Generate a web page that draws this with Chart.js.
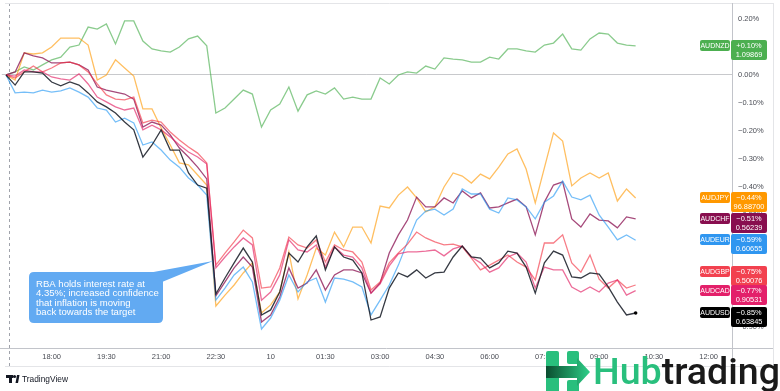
<!DOCTYPE html>
<html><head><meta charset="utf-8">
<script src="https://cdn.jsdelivr.net/npm/chart.js@4/dist/chart.umd.min.js"></script>
<style>html,body{margin:0;padding:0;background:#fff;}#wrap{width:780px;height:391px;position:relative;}canvas{display:block;}</style>
</head><body><div id="wrap"><canvas id="c" width="780" height="391"></canvas></div>
<script>
// ---- data (percent change, 15-minute bars from 16:45 to 10:00) ----
const xTickIndex = [5,11,17,23,29,35,41,47,53,59,65,71,77];
const xTickLabels = ['18:00','19:30','21:00','22:30','10','01:30','03:00','04:30','06:00','07:30','09:00','10:30','12:00'];
const yTickValues = [0.2,0.1,0,-0.1,-0.2,-0.3,-0.4,-0.5,-0.6,-0.7,-0.8,-0.9];

const audnzd = [0,0.011,0.029,0.018,0.036,0.054,0.064,0.100,0.107,0.171,0.164,0.182,0.111,0.193,0.193,0.121,0.093,0.086,0.082,0.100,0.129,0.139,0.104,-0.136,-0.118,-0.086,-0.054,-0.068,-0.186,-0.125,-0.104,-0.043,-0.129,-0.071,-0.057,-0.068,-0.046,-0.086,-0.079,-0.086,-0.086,-0.011,-0.032,0,0.011,0.007,0.032,0.021,0.061,0.057,0.054,0.046,0.046,0.064,0.057,0.093,0.093,0.086,0.082,0.107,0.114,0.146,0.093,0.089,0.129,0.150,0.146,0.114,0.107,0.104];
const audjpy = [0,-0.018,0.079,0.075,0.079,0.100,0.132,0.132,0.132,0.107,-0.018,0,0.054,0.025,-0.004,-0.121,-0.121,-0.189,-0.250,-0.314,-0.321,-0.357,-0.393,-0.825,-0.786,-0.750,-0.707,-0.671,-0.850,-0.821,-0.775,-0.632,-0.800,-0.714,-0.618,-0.643,-0.561,-0.614,-0.543,-0.543,-0.600,-0.468,-0.475,-0.429,-0.400,-0.439,-0.489,-0.471,-0.400,-0.350,-0.361,-0.386,-0.354,-0.371,-0.329,-0.282,-0.264,-0.336,-0.457,-0.332,-0.207,-0.236,-0.396,-0.368,-0.350,-0.368,-0.350,-0.450,-0.407,-0.439];
const audchf = [0,0.011,0.079,0.068,0.061,0.043,0.043,0.046,0.036,0.018,-0.043,-0.054,-0.061,-0.068,-0.086,-0.186,-0.168,-0.179,-0.214,-0.261,-0.293,-0.329,-0.371,-0.789,-0.739,-0.689,-0.650,-0.686,-0.882,-0.857,-0.793,-0.689,-0.761,-0.743,-0.696,-0.768,-0.714,-0.696,-0.696,-0.707,-0.779,-0.743,-0.636,-0.571,-0.518,-0.436,-0.471,-0.471,-0.439,-0.457,-0.414,-0.439,-0.421,-0.475,-0.471,-0.457,-0.443,-0.471,-0.571,-0.454,-0.393,-0.382,-0.514,-0.543,-0.496,-0.518,-0.521,-0.546,-0.507,-0.514];
const audeur = [0,-0.064,-0.061,-0.064,-0.054,-0.061,-0.057,-0.046,-0.061,-0.079,-0.118,-0.125,-0.168,-0.154,-0.171,-0.250,-0.239,-0.268,-0.304,-0.329,-0.368,-0.393,-0.429,-0.804,-0.761,-0.714,-0.686,-0.739,-0.907,-0.868,-0.804,-0.714,-0.775,-0.739,-0.725,-0.811,-0.725,-0.729,-0.739,-0.757,-0.857,-0.804,-0.750,-0.679,-0.596,-0.518,-0.486,-0.479,-0.500,-0.479,-0.407,-0.425,-0.425,-0.479,-0.493,-0.439,-0.446,-0.471,-0.514,-0.454,-0.432,-0.379,-0.436,-0.446,-0.429,-0.500,-0.543,-0.589,-0.571,-0.590];
const audgbp = [0,-0.011,0.011,0.032,0.011,0.025,0.043,0.046,0.036,0.011,-0.032,-0.071,-0.086,-0.089,-0.079,-0.171,-0.161,-0.168,-0.204,-0.232,-0.257,-0.279,-0.314,-0.679,-0.636,-0.596,-0.554,-0.582,-0.761,-0.757,-0.689,-0.579,-0.607,-0.618,-0.589,-0.668,-0.607,-0.625,-0.632,-0.668,-0.768,-0.739,-0.671,-0.636,-0.604,-0.561,-0.582,-0.596,-0.607,-0.604,-0.614,-0.654,-0.696,-0.679,-0.661,-0.643,-0.668,-0.686,-0.732,-0.600,-0.600,-0.571,-0.671,-0.704,-0.643,-0.729,-0.761,-0.732,-0.761,-0.750];
const audcad = [0,-0.004,0.018,0.011,0.011,-0.007,-0.014,-0.018,0.004,-0.032,-0.079,-0.096,-0.114,-0.125,-0.118,-0.196,-0.179,-0.196,-0.221,-0.250,-0.275,-0.293,-0.318,-0.689,-0.650,-0.614,-0.582,-0.607,-0.804,-0.775,-0.714,-0.589,-0.625,-0.632,-0.607,-0.686,-0.614,-0.643,-0.650,-0.689,-0.779,-0.746,-0.682,-0.639,-0.632,-0.632,-0.629,-0.625,-0.646,-0.621,-0.611,-0.650,-0.671,-0.704,-0.689,-0.650,-0.636,-0.668,-0.761,-0.686,-0.696,-0.696,-0.757,-0.775,-0.757,-0.775,-0.743,-0.732,-0.786,-0.770];
const audusd = [0,-0.036,0.011,0.011,0.007,-0.025,-0.039,-0.025,-0.036,-0.064,-0.096,-0.114,-0.136,-0.168,-0.196,-0.293,-0.250,-0.196,-0.268,-0.268,-0.350,-0.393,-0.404,-0.782,-0.725,-0.671,-0.618,-0.668,-0.857,-0.839,-0.775,-0.636,-0.668,-0.614,-0.575,-0.696,-0.614,-0.650,-0.661,-0.707,-0.875,-0.864,-0.761,-0.707,-0.721,-0.696,-0.725,-0.707,-0.704,-0.650,-0.611,-0.650,-0.654,-0.689,-0.671,-0.629,-0.636,-0.686,-0.779,-0.671,-0.629,-0.643,-0.721,-0.725,-0.707,-0.711,-0.757,-0.811,-0.857,-0.850];

const seriesNames = ['AUDNZD','AUDJPY','AUDCHF','AUDEUR','AUDGBP','AUDCAD','AUDUSD'];
const seriesData = [audnzd,audjpy,audchf,audeur,audgbp,audcad,audusd];
const pctLabels = ['+0.10%','\u22120.44%','\u22120.51%','\u22120.59%','\u22120.75%','\u22120.77%','\u22120.85%'];
const priceLabels = ['1.09869','96.88700','0.56239','0.60655','0.50076','0.90531','0.63845'];
const annotationLines = ['RBA holds interest rate at','4.35%; increased confidence','that inflation is moving','back towards the target'];
const annotationAt = {index: 22.7, value: -0.664};

// ---- styles ----
const badgeColors = ['#4caf50','#ff9800','#880e4f','#2f96f0','#f2414f','#e3206a','#000000'];
const lineColors = ['rgba(76,175,80,0.65)','rgba(255,152,0,0.62)','rgba(136,14,79,0.75)','rgba(33,150,243,0.62)','rgba(242,54,69,0.65)','rgba(226,30,99,0.65)','rgba(19,23,34,0.85)'];
const ff = '"Liberation Sans", Arial, sans-serif';

const fmtPct = v => { const a = Math.abs(v).toFixed(2); return (v < -1e-9 ? '\u2212' : '') + a + '%'; };

const datasets = seriesData.map((s, k) => ({
  label: seriesNames[k],
  data: s.map((v, i) => ({x: i, y: v})),
  borderColor: lineColors[k],
  backgroundColor: badgeColors[k],
  borderWidth: 1.3,
  pointRadius: k === 6 ? (c => c.dataIndex === s.length - 1 ? 1.8 : 0) : 0,
  pointHoverRadius: 0,
  pointHitRadius: 0,
  pointBackgroundColor: '#000',
  pointBorderWidth: 0,
  tension: 0,
  order: 6 - k
}));

function rr(ctx, x, y, w, h, r) {
  ctx.beginPath();
  ctx.moveTo(x + r, y); ctx.lineTo(x + w - r, y); ctx.quadraticCurveTo(x + w, y, x + w, y + r);
  ctx.lineTo(x + w, y + h - r); ctx.quadraticCurveTo(x + w, y + h, x + w - r, y + h);
  ctx.lineTo(x + r, y + h); ctx.quadraticCurveTo(x, y + h, x, y + h - r);
  ctx.lineTo(x, y + r); ctx.quadraticCurveTo(x, y, x + r, y); ctx.closePath();
}

const deco = {
  id: 'deco',
  beforeDatasetsDraw(chart) {
    const ctx = chart.ctx, xs = chart.scales.x, a = chart.chartArea;
    ctx.save();
    const dx = Math.round(xs.getPixelForValue(0.33)) + 0.5;
    ctx.strokeStyle = '#a0a3ab'; ctx.lineWidth = 1; ctx.setLineDash([3, 3]);
    ctx.beginPath(); ctx.moveTo(dx, a.top); ctx.lineTo(dx, a.bottom + 18); ctx.stroke();
    ctx.restore();
  },
  afterDraw(chart) {
    const ctx = chart.ctx, xs = chart.scales.x, ys = chart.scales.y, a = chart.chartArea;
    ctx.save();
    // frame and axis lines
    ctx.strokeStyle = '#e4e5e8'; ctx.lineWidth = 1;
    ctx.beginPath();
    ctx.moveTo(5, a.top + 0.5); ctx.lineTo(773.5, a.top + 0.5);
    ctx.moveTo(773.5, a.top); ctx.lineTo(773.5, a.bottom + 18.5);
    ctx.moveTo(5, a.bottom + 18.5); ctx.lineTo(773.5, a.bottom + 18.5);
    ctx.stroke();
    ctx.strokeStyle = '#c2c4ca';
    ctx.beginPath();
    ctx.moveTo(0, a.bottom + 0.5); ctx.lineTo(773, a.bottom + 0.5);
    ctx.moveTo(a.right + 0.5, a.top); ctx.lineTo(a.right + 0.5, a.bottom + 18);
    ctx.stroke();

    // annotation callout
    const tipX = xs.getPixelForValue(annotationAt.index), tipY = ys.getPixelForValue(annotationAt.value);
    ctx.fillStyle = '#62aaf2';
    rr(ctx, 29, 272, 134, 51, 5); ctx.fill();
    ctx.beginPath(); ctx.moveTo(148, 273); ctx.lineTo(tipX, tipY); ctx.lineTo(162, 282); ctx.closePath(); ctx.fill();
    ctx.font = '10px ' + ff;
    const w0 = ctx.measureText(annotationLines[0]).width;
    const fs = 10 * 109 / w0;
    ctx.font = fs.toFixed(2) + 'px ' + ff;
    ctx.fillStyle = '#ffffff'; ctx.textAlign = 'left'; ctx.textBaseline = 'alphabetic';
    annotationLines.forEach((t, i) => ctx.fillText(t, 36, 287 + i * 9.4));

    // right-side badges
    const n = seriesData.length;
    const idx = [...Array(n).keys()].map(k => ({k, y: ys.getPixelForValue(seriesData[k][seriesData[k].length - 1])}));
    idx.sort((p, q) => p.y - q.y);
    for (let j = idx.length - 2; j >= 0; j--) idx[j].y = Math.min(idx[j].y, idx[j + 1].y - 19);
    idx.forEach(({k, y}) => {
      const top = Math.round(y) - 6;
      ctx.fillStyle = badgeColors[k];
      rr(ctx, 700, top, 30, 11, 2); ctx.fill();
      rr(ctx, 731, top, 36, 20, 2); ctx.fill();
      ctx.fillStyle = '#ffffff'; ctx.textAlign = 'center'; ctx.textBaseline = 'middle';
      ctx.font = '7px ' + ff;
      ctx.fillText(seriesNames[k], 715, top + 5.8);
      ctx.font = '7.4px ' + ff;
      ctx.fillText(pctLabels[k], 749, top + 5.8);
      ctx.fillText(priceLabels[k], 749, top + 15);
    });

    // TradingView mark
    ctx.fillStyle = '#131722';
    ctx.fillRect(6, 375, 7, 3); ctx.fillRect(9, 375, 3, 8);
    ctx.beginPath(); ctx.arc(14.5, 376.5, 1.6, 0, Math.PI * 2); ctx.fill();
    ctx.beginPath(); ctx.moveTo(15.5, 383); ctx.lineTo(17, 375); ctx.lineTo(19.5, 375); ctx.lineTo(18, 383); ctx.closePath(); ctx.fill();
    ctx.font = '10px ' + ff;
    const tw = ctx.measureText('TradingView').width;
    ctx.font = (10 * 46 / tw).toFixed(2) + 'px ' + ff;
    ctx.textAlign = 'left'; ctx.textBaseline = 'middle';
    ctx.fillText('TradingView', 22, 379.5);

    // Hubtrading watermark
    const g = '#29bf7d';
    ctx.fillStyle = g;
    rr(ctx, 546, 351, 13, 44, 2); ctx.fill();
    rr(ctx, 567, 351, 12, 13, 2); ctx.fill();
    rr(ctx, 567, 380, 12, 15, 2); ctx.fill();
    const grad = ctx.createLinearGradient(546, 0, 590, 0);
    grad.addColorStop(0, '#0b4d30'); grad.addColorStop(0.6, '#1f9a63'); grad.addColorStop(1, '#2fd08a');
    ctx.fillStyle = grad;
    ctx.beginPath();
    ctx.moveTo(546, 366); ctx.lineTo(577, 366); ctx.lineTo(577, 358); ctx.lineTo(590, 372); ctx.lineTo(577, 386); ctx.lineTo(577, 378); ctx.lineTo(546, 378);
    ctx.closePath(); ctx.fill();
    ctx.font = '500 37px Roboto, ' + ff;
    const hw = ctx.measureText('Hubtrading').width;
    const sx = 187 / hw;
    ctx.translate(593, 383.5); ctx.scale(sx, 1);
    ctx.textAlign = 'left'; ctx.textBaseline = 'alphabetic';
    ctx.fillStyle = g; ctx.fillText('Hub', 0, 0);
    const hb = ctx.measureText('Hub').width;
    ctx.fillStyle = '#1a1a1a'; ctx.fillText('trading', hb, 0);
    ctx.restore();
  }
};

new Chart(document.getElementById('c'), {
  type: 'line',
  data: {datasets},
  options: {
    responsive: false, animation: false, devicePixelRatio: 1,
    layout: {padding: {top: 3, bottom: 25, left: 0, right: 0}},
    plugins: {legend: {display: false}, tooltip: {enabled: false}},
    scales: {
      x: {
        type: 'linear', min: -0.46, max: 79.56,
        afterBuildTicks: s => { s.ticks = xTickIndex.map(v => ({value: v})); },
        afterFit: s => { s.height = 18; s.paddingLeft = 0; s.paddingRight = 0; },
        grid: {display: false, drawTicks: false},
        border: {display: false},
        ticks: {autoSkip: false, maxRotation: 0, padding: 4, color: '#4a4d55', font: {family: ff, size: 7.5},
          callback: v => { const k = xTickIndex.indexOf(v); return k >= 0 ? xTickLabels[k] : ''; }}
      },
      y: {
        type: 'linear', position: 'right', min: -0.975, max: 0.2571,
        afterBuildTicks: s => { s.ticks = yTickValues.map(v => ({value: v})); },
        afterFit: s => { s.width = 48; s.paddingTop = 0; s.paddingBottom = 0; },
        grid: {drawTicks: false, lineWidth: 1, color: c => (c.tick && c.tick.value === 0) ? '#c8c9cc' : 'rgba(0,0,0,0)'},
        border: {display: false},
        ticks: {autoSkip: false, padding: 6, color: '#4a4d55', font: {family: ff, size: 7.5}, callback: v => fmtPct(v)}
      }
    }
  },
  plugins: [deco]
});
</script>
</body></html>
